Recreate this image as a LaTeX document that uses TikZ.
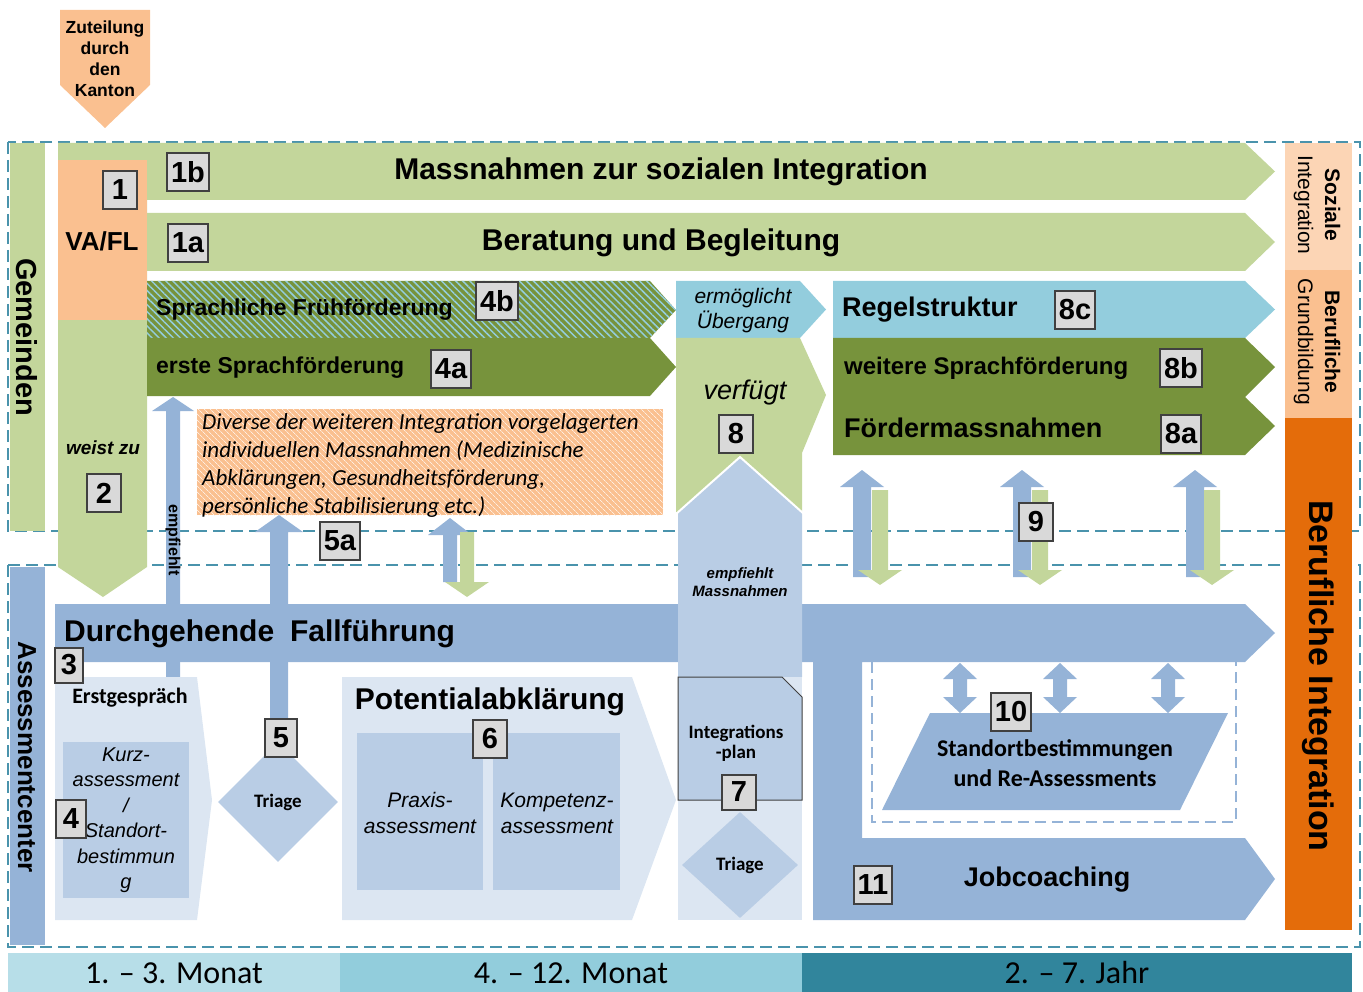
\documentclass[tikz,border=0pt]{standalone}
\usepackage{fontspec}
\setmainfont{Liberation Sans}
\newfontfamily\calfont{Carlito}
\usetikzlibrary{positioning, shapes.geometric, patterns.meta}

\definecolor{lgreen}{HTML}{C3D69B}
\definecolor{dgreen}{HTML}{77933C}
\definecolor{lblue}{HTML}{93CDDD}
\definecolor{mblue}{HTML}{95B3D7}
\definecolor{pblue}{HTML}{B9CDE5}
\definecolor{vpblue}{HTML}{DCE6F2}
\definecolor{orng}{HTML}{FAC090}
\definecolor{lorng}{HTML}{FCD5B5}
\definecolor{dorng}{HTML}{E46C0A}
\definecolor{band1}{HTML}{B7DEE8}
\definecolor{band2}{HTML}{92CDDC}
\definecolor{band3}{HTML}{31859C}
\definecolor{framecol}{HTML}{4A93AC}
\definecolor{boxfill}{HTML}{D9D9D9}
\definecolor{boxline}{HTML}{404040}

\newcommand{\fsz}[2]{\fontsize{#1}{#2}\selectfont}
% block arrow to the right: style, left x, notch x, tip x, top y, bottom y
\newcommand{\barrow}[6]{\fill[#1] (#2,#5) -- (#3,#5) -- (#4,{(#5+#6)/2}) -- (#3,#6) -- (#2,#6) -- cycle;}
% slim arrows: style, x, tip y, end y, shaft half width, head half width, head length
\newcommand{\uparr}[7]{\fill[#1] (#2,#3) -- ({#2+#6},{#3+#7}) -- ({#2+#5},{#3+#7}) -- ({#2+#5},#4)
  -- ({#2-#5},#4) -- ({#2-#5},{#3+#7}) -- ({#2-#6},{#3+#7}) -- cycle;}
\newcommand{\downarr}[7]{\fill[#1] (#2,#3) -- ({#2+#6},{#3-#7}) -- ({#2+#5},{#3-#7}) -- ({#2+#5},#4)
  -- ({#2-#5},#4) -- ({#2-#5},{#3-#7}) -- ({#2-#6},{#3-#7}) -- cycle;}
\newcommand{\duarr}[4]{\fill[#1] (#2,#3) -- ({#2+17},{#3+16}) -- ({#2+7},{#3+16}) -- ({#2+7},{#4-16})
  -- ({#2+17},{#4-16}) -- (#2,#4) -- ({#2-17},{#4-16}) -- ({#2-7},{#4-16}) -- ({#2-7},{#3+16})
  -- ({#2-17},{#3+16}) -- cycle;}

\tikzset{
  numbox/.style={draw=boxline, line width=2pt, fill=boxfill, font=\bfseries\fsz{29}{29},
    inner xsep=4pt, inner ysep=0pt, minimum width=34pt, minimum height=38pt},
  bigtext/.style={font=\bfseries\fsz{30}{30}, inner sep=0pt},
  bartext/.style={font=\bfseries\fsz{24}{24}, inner sep=0pt, anchor=west},
  sidetext/.style={rotate=-90, inner sep=0pt, align=center},
  bandtext/.style={font=\calfont\fsz{32}{32}, anchor=base, inner sep=0pt},
  dashframe/.style={draw=framecol, line width=1.5pt, dash pattern=on 12pt off 6pt},
  triage/.style={diamond, fill=pblue, inner sep=0pt, font=\calfont\bfseries\fsz{19}{19}},
  hatchgreen/.style={pattern={Lines[angle=-45,distance=5pt,line width=1.5pt]}, pattern color=lblue},
  hatchorange/.style={pattern={Lines[angle=-45,distance=4pt,line width=0.8pt]}, pattern color=lorng!40},
}

\begin{document}
\begin{tikzpicture}[x=1pt, y=-1pt]
\useasboundingbox (0,0) rectangle (1363,992);

% time line
\fill[band1] (8,953) rectangle (340,992);
\fill[band2] (340,953) rectangle (802,992);
\fill[band3] (802,953) rectangle (1352,992);
\node[bandtext] (t1) at (174,983) {1. – 3. Monat};
\node[bandtext] (t2) at (571,983) {4. – 12. Monat};
\node[bandtext] (t3) at (1077,983) {2. – 7. Jahr};

\draw[dashframe] (8,142) rectangle (1360,531);
\draw[dashframe] (8,565) rectangle (1360,947);

\fill[lgreen] (10,143) rectangle (45,531);
\node[sidetext, font=\bfseries\fsz{29}{29}] (gem) at (27,337) {Gemeinden};
\fill[mblue] (10,567) rectangle (45,945);
\node[sidetext, font=\bfseries\fsz{26}{26}] (asc) at (27,757) {Assessmentcenter};

% Kanton
\fill[orng] (60,10) -- (150,10) -- (150,85) -- (105,128) -- (60,85) -- cycle;
\node[font=\bfseries\fsz{17.5}{21}, align=center, inner sep=0pt] (kanton) at (105,59)
  {Zuteilung\\durch\\den\\Kanton};

% Gemeinden
\barrow{lgreen}{58}{1245}{1275}{143}{200}
\fill[lgreen] (58,200) -- (147,200) -- (147,567) -- (103,597) -- (58,567) -- cycle;
\fill[orng] (58,160) rectangle (147,320);
\barrow{lgreen}{147}{1245}{1275}{213}{271}
\fill[dgreen] (147,281) -- (650,281) -- (676,310) -- (650,338) -- (147,338) -- cycle;
\fill[hatchgreen] (147,281) -- (650,281) -- (676,310) -- (650,338) -- (147,338) -- cycle;
\barrow{dgreen}{147}{650}{676}{338}{396}
\barrow{lblue}{676}{800}{826}{281}{338}
\fill[lgreen] (676,338) -- (800,338) -- (826,395) -- (802,453) -- (802,512) -- (676,512) -- cycle;
\barrow{lblue}{833}{1245}{1275}{281}{338}
\fill[dgreen] (833,338) -- (1245,338) -- (1275,367) -- (1245,397) -- (1275,426) -- (1245,455)
  -- (833,455) -- cycle;
\fill[orng] (197,409) rectangle (663,515);
\fill[hatchorange] (197,409) rectangle (663,515);

\node[font=\bfseries\fsz{26}{26}, inner sep=0pt] (vafl) at (102,241) {VA/FL};
\node[bigtext] (soz) at (661,172) {Massnahmen zur sozialen Integration};
\node[bigtext] (ber) at (661,243) {Beratung und Begleitung};
\node[bartext, font=\bfseries\fsz{23}{23}] (sfrueh) at (156,310) {Sprachliche Frühförderung};
\node[bartext, font=\bfseries\fsz{23}{23}] (sfoerd) at (156,368) {erste Sprachförderung};
\node[font=\itshape\fsz{21}{25}, align=center, inner sep=0pt] (ueb) at (743,311) {ermöglicht\\Übergang};
\node[font=\itshape\fsz{27}{27}, inner sep=0pt] (verf) at (745,393) {verfügt};
\node[bartext, font=\bfseries\fsz{27}{27}] (regel) at (842,310) {Regelstruktur};
\node[bartext] (weiter) at (844,368) {weitere Sprachförderung};
\node[bartext, font=\bfseries\fsz{27}{27}] (foerd) at (844,428) {Fördermassnahmen};
\node[font=\bfseries\itshape\fsz{19}{19}, inner sep=0pt] (weist) at (103,448) {weist zu};
\node[font=\calfont\itshape\fsz{23}{28}, align=left, anchor=north west, inner sep=0pt] (div) at (202,413)
  {Diverse der weiteren Integration vorgelagerten\\individuellen Massnahmen (Medizinische\\
   Abklärungen, Gesundheitsförderung,\\persönliche Stabilisierung etc.)};

% Fallfuehrung
\fill[mblue] (55,604) -- (1245,604) -- (1275,633) -- (1245,662) -- (862,662) -- (862,838)
  -- (1245,838) -- (1275,879) -- (1245,920) -- (813,920) -- (813,662) -- (55,662) -- cycle;

\fill[pblue] (678,513) -- (740,457) -- (802,513) -- (802,677) -- (678,677) -- cycle;
\draw[white, line width=2pt] (676,514) -- (740,457) -- (804,514);
\fill[vpblue] (678,677) rectangle (802,920);
\node[font=\bfseries\itshape\fsz{15}{18}, align=center, inner sep=0pt] (empfm) at (740,582)
  {empfiehlt\\Massnahmen};

% arrows
\uparr{mblue}{173}{397}{677}{7}{21}{14}
\node[sidetext, font=\bfseries\fsz{16}{16}] (empf) at (173,540) {empfiehlt};
\uparr{mblue}{279}{515}{720}{9}{24}{17}
\uparr{mblue}{450}{518}{582}{7}{22}{17}
\downarr{lgreen}{467}{597}{532}{7}{22}{15}
\uparr{mblue}{862}{470}{577}{9}{22}{17}
\downarr{lgreen}{880}{585}{490}{8}{22}{15}
\uparr{mblue}{1022}{470}{577}{9}{22}{17}
\downarr{lgreen}{1040}{585}{490}{8}{22}{15}
\uparr{mblue}{1195}{470}{577}{9}{22}{17}
\downarr{lgreen}{1212}{585}{490}{8}{22}{15}

\node[bigtext, anchor=west] (fall) at (64,634) {Durchgehende\hspace{0.25em} Fallführung};

% Assessment
\fill[vpblue] (55,677) -- (197,677) -- (212,800) -- (197,920) -- (55,920) -- cycle;
\node[font=\calfont\bfseries\fsz{22}{22}, inner sep=0pt] (erst) at (130,698) {Erstgespräch};
\fill[pblue] (63,742) rectangle (189,898);
\node[font=\itshape\fsz{20}{25.5}, align=center, inner sep=0pt] (kurz) at (126,820)
  {Kurz-\\assessment\\/\\Standort-\\bestimmun\\g};
\node[triage, minimum width=120pt, minimum height=120pt] (tri1) at (278,802) {Triage};

\fill[vpblue] (342,677) -- (632,677) -- (676,800) -- (632,920) -- (342,920) -- cycle;
\node[bigtext] (pot) at (490,702) {Potentialabklärung};
\fill[pblue] (357,733) rectangle (483,890);
\fill[pblue] (493,733) rectangle (620,890);
\node[font=\itshape\fsz{21}{26}, align=center, inner sep=0pt] (prax) at (420,813) {Praxis-\\assessment};
\node[font=\itshape\fsz{21}{26}, align=center, inner sep=0pt] (komp) at (557,813) {Kompetenz-\\assessment};

\filldraw[fill=pblue, draw=boxline, line width=1pt] (678,677) -- (782,677) -- (802,697) -- (802,800)
  -- (678,800) -- cycle;
\node[font=\calfont\bfseries\fsz{19}{20}, align=center, inner sep=0pt] (iplan) at (736,743)
  {Integrations\\-plan};
\node[triage, minimum width=116pt, minimum height=106pt] (tri2) at (740,865) {Triage};

% Standortbestimmungen
\draw[mblue, line width=2.5pt, dash pattern=on 11pt off 6pt] (872,662) -- (872,822) -- (1236,822)
  -- (1236,662);
\fill[mblue] (930,713) -- (1228,713) -- (1180,810) -- (882,810) -- cycle;
\duarr{mblue}{960}{663}{713}
\duarr{mblue}{1060}{663}{713}
\duarr{mblue}{1168}{663}{713}
\node[font=\calfont\bfseries\fsz{24}{30}, align=center, inner sep=0pt] (stand) at (1055,763)
  {Standortbestimmungen\\und Re-Assessments};
\node[font=\bfseries\fsz{27}{27}, inner sep=0pt] (job) at (1047,880) {Jobcoaching};

% right hand column
\fill[lorng] (1285,143) rectangle (1352,270);
\fill[orng] (1285,270) rectangle (1352,418);
\fill[dorng] (1285,418) rectangle (1352,930);
\node[sidetext, font=\fsz{21}{27}] (sozi) at (1317,205) {{\bfseries Soziale}\\Integration};
\node[sidetext, font=\fsz{21}{27}] (grund) at (1317,342) {{\bfseries Berufliche}\\Grundbildung};
\node[sidetext, font=\bfseries\fsz{34}{34}] (bint) at (1318,676) {Berufliche Integration};

% numbers
\node[numbox] (n1) at (120,190) {1};
\node[numbox] (n1b) at (188,172) {1b};
\node[numbox] (n1a) at (188,243) {1a};
\node[numbox] (n4b) at (497,301) {4b};
\node[numbox] (n4a) at (451,369) {4a};
\node[numbox] (n2) at (104,493) {2};
\node[numbox] (n5a) at (340,541) {5a};
\node[numbox] (n8) at (736,434) {8};
\node[numbox] (n8c) at (1075,310) {8c};
\node[numbox] (n8b) at (1181,368) {8b};
\node[numbox] (n8a) at (1181,434) {8a};
\node[numbox] (n9) at (1036,522) {9};
\node[numbox, minimum width=28pt, minimum height=35pt] (n3) at (69,665) {3};
\node[numbox, minimum width=30pt] (n4) at (71,819) {4};
\node[numbox, minimum width=32pt] (n5) at (281,738) {5};
\node[numbox] (n6) at (490,739) {6};
\node[numbox, minimum height=35pt] (n7) at (739,792) {7};
\node[numbox] (n10) at (1011,712) {10};
\node[numbox] (n11) at (873,885) {11};
\end{tikzpicture}
\end{document}
